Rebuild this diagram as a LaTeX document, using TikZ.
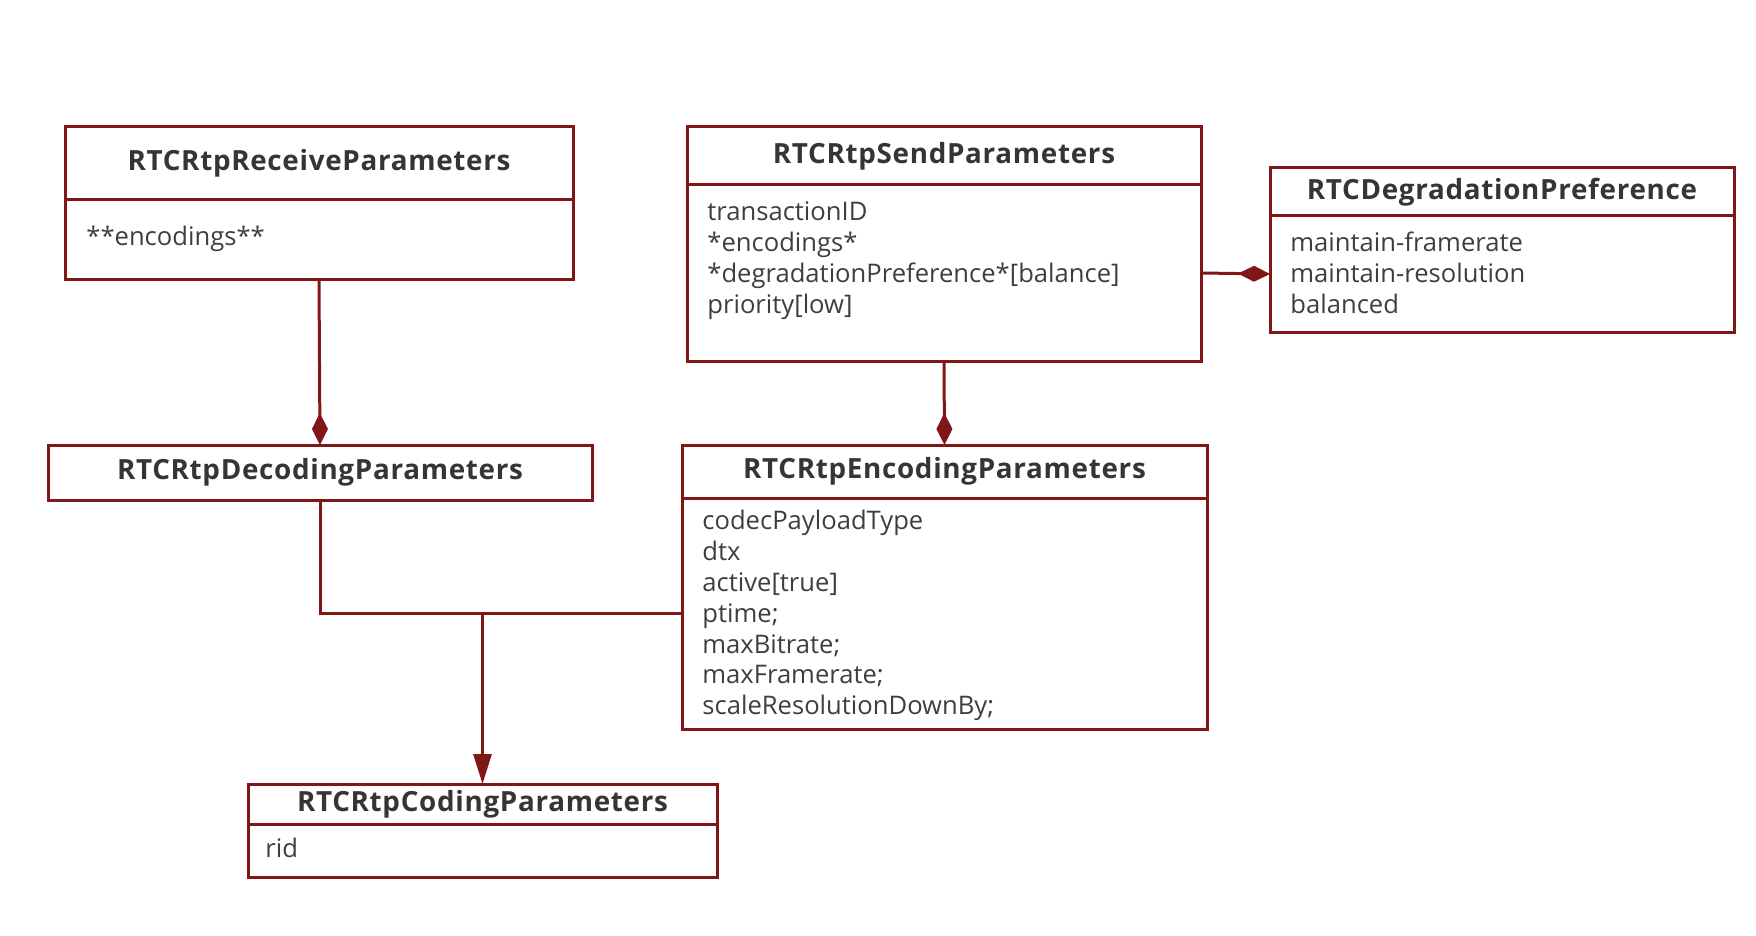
\documentclass[tikz,border=0pt]{standalone}
\usepackage{fontspec}
\setmainfont{Open Sans}
\usetikzlibrary{arrows.meta}
\definecolor{umlred}{RGB}{128,22,22}
\definecolor{umltext}{RGB}{62,62,62}
\tikzset{
  classhead/.style={draw=umlred,line width=1.5pt,inner sep=0pt,outer sep=0pt,font=\bfseries\fontsize{13.9}{16}\selectfont\addfontfeature{LetterSpace=2.5},text=umltext!85!black},
  classbody/.style={draw=umlred,line width=1.5pt,inner sep=0pt,outer sep=0pt,anchor=north},
  attrs/.style={anchor=north west,align=left,inner sep=0pt,font=\fontsize{12.8}{15.4}\selectfont,text=umltext},
  link/.style={draw=umlred,line width=1.5pt},
  owns/.style={link,-{Diamond[length=16pt,width=8pt]}},
  uses/.style={link,-{Triangle[length=15pt,width=9pt]}}
}
\begin{document}
\begin{tikzpicture}[x=0.5pt,y=-0.5pt]
  \useasboundingbox (0,0) rectangle (1756,936);

  \node[classhead,minimum width=254pt,minimum height=36.5pt] (recv) at (319,163.5) {RTCRtpReceiveParameters};
  \node[classbody,minimum width=254pt,minimum height=40pt] (recvbody) at (recv.south) {};
  \node[attrs] (recvattrs) at ([shift={(21,26)}]recvbody.north west) {**encodings**};

  \node[classhead,minimum width=257pt,minimum height=29pt] (send) at (944,156) {RTCRtpSendParameters};
  \node[classbody,minimum width=257pt,minimum height=88pt] (sendbody) at (send.south) {};
  \node[attrs] (sendattrs) at ([shift={(20,16.5)}]sendbody.north west)
    {transactionID\\*encodings*\\*degradationPreference*[balance]\\priority[low]};

  \node[classhead,minimum width=232pt,minimum height=24pt] (deg) at (1502,192) {RTCDegradationPreference};
  \node[classbody,minimum width=232pt,minimum height=58pt] (degbody) at (deg.south) {};
  \node[attrs] (degattrs) at ([shift={(20,16)}]degbody.north west)
    {maintain-framerate\\maintain-resolution\\balanced};

  \node[classhead,minimum width=272pt,minimum height=27.5pt] (dec) at (320,472.5) {RTCRtpDecodingParameters};

  \node[classhead,minimum width=262.5pt,minimum height=26.5pt] (enc) at (944.5,471.5) {RTCRtpEncodingParameters};
  \node[classbody,minimum width=262.5pt,minimum height=115.5pt] (encbody) at (enc.south) {};
  \node[attrs] (encattrs) at ([shift={(20,12)}]encbody.north west)
    {codecPayloadType\\dtx\\active[true]\\ptime;\\maxBitrate;\\maxFramerate;\\scaleResolutionDownBy;};

  \node[classhead,minimum width=234.5pt,minimum height=20pt] (coding) at (482.5,804) {RTCRtpCodingParameters};
  \node[classbody,minimum width=234.5pt,minimum height=26.5pt] (codingbody) at (coding.south) {};
  \node[attrs] (codingattrs) at ([shift={(17,14)}]codingbody.north west) {rid};

  \draw[owns] (recvbody.south) -- (dec.north);
  \draw[owns] (sendbody.south) -- (enc.north);
  \draw[owns] (sendbody.east) -- (degbody.west);
  \draw[link] (dec.south) |- (encbody.west);
  \coordinate (split) at (coding.north |- encbody.west);
  \draw[uses] (split) -- (coding.north);
\end{tikzpicture}
\end{document}
